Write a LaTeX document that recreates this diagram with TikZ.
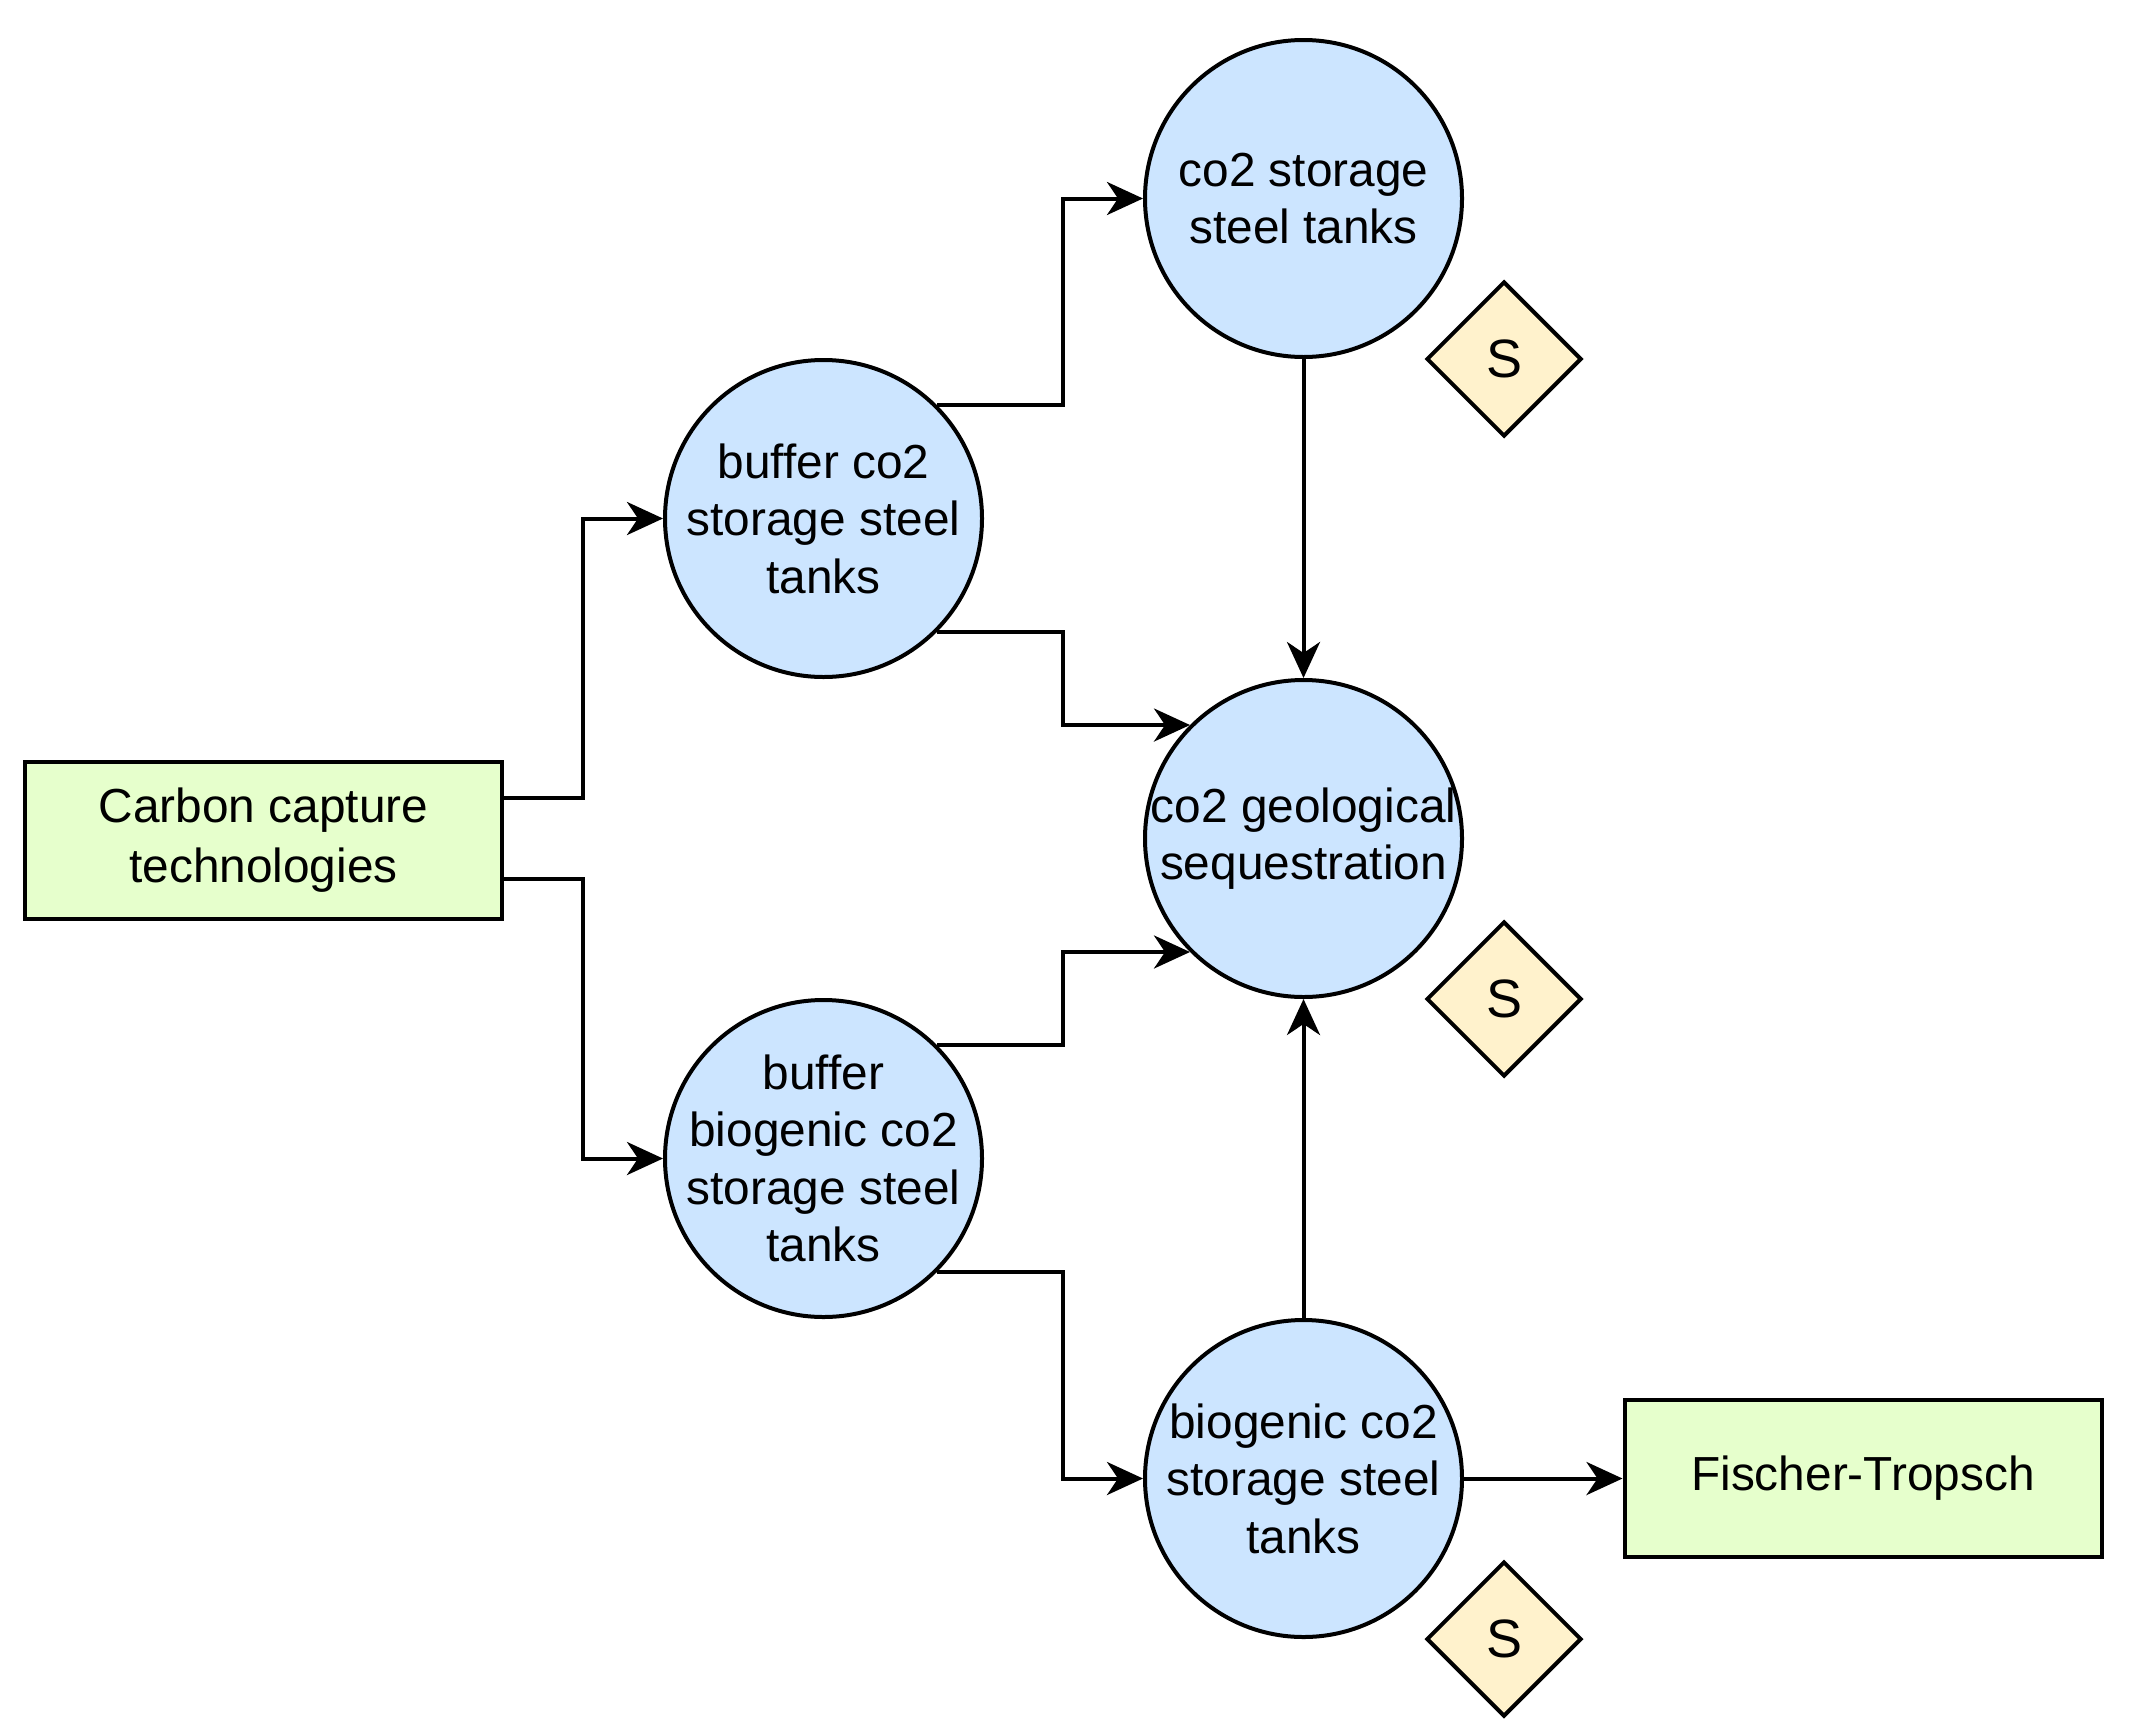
\documentclass[tikz,border=0pt]{standalone}
\usepackage{fontspec}
\setmainfont{Liberation Sans}
\usetikzlibrary{shapes.geometric,arrows.meta,calc}
\definecolor{tankblue}{HTML}{CCE5FF}
\definecolor{procgreen}{HTML}{E6FFCC}
\definecolor{storeyellow}{HTML}{FFF2CC}
\begin{document}
\begin{tikzpicture}[x=1pt,y=-1pt,
  every node/.style={font=\fontsize{47.8}{57.5}\selectfont, align=center, line width=4pt, draw=black, inner sep=0pt},
  tank/.style={circle, fill=tankblue, minimum size=317pt, inner sep=-45pt},
  proc/.style={rectangle, fill=procgreen, minimum width=477pt, minimum height=157pt, font=\fontsize{47.8}{60}\selectfont},
  store/.style={diamond, fill=storeyellow, minimum width=155pt, minimum height=155pt, aspect=1, font=\fontsize{54}{60}\selectfont},
  arr/.style={line width=4pt, -{Stealth[length=36pt, width=33pt, inset=11pt]}}]
\useasboundingbox (0,0) rectangle (2140,1721);

% process boxes
\node[proc] (cc) at (263.5,840) {Carbon capture\\technologies};
\node[proc] (ft) at (1863,1478.5) {\raisebox{-3pt}{Fischer-Tropsch}};

% storage tanks
\node[tank] (buf) at (823.5,518.5) {buffer co2\\storage steel\\tanks};
\node[tank] (bb)  at (823.5,1158.5) {buffer\\biogenic co2\\storage steel\\tanks};
\node[tank] (st)  at (1303.5,198.5) {co2 storage\\steel tanks};
\node[tank] (geo) at (1303.5,838.5) {co2 geological\\sequestration};
\node[tank] (bs)  at (1303.5,1478.5) {biogenic co2\\storage steel\\tanks};

% storage markers
\node[store] (s1) at (1504,359) {S};
\node[store] (s2) at (1504,999) {S};
\node[store] (s3) at (1504,1639) {S};

% connectors
\draw[arr] ($(cc.east)+(0,-42.5)$) -- ++(79,0) |- (buf.west);
\draw[arr] ($(cc.east)+(0,38.5)$) -- ++(79,0) |- (bb.west);
\draw[arr] (buf.45) -- ++(126,0) |- (st.west);
\draw[arr] (buf.-45) -- ++(126,0) |- (geo.135);
\draw[arr] (bb.45) -- ++(126,0) |- (geo.-135);
\draw[arr] (bb.-45) -- ++(126,0) |- (bs.west);
\draw[arr] (st.south) -- (geo.north);
\draw[arr] (bs.north) -- (geo.south);
\draw[arr] (bs.east) -- (ft.west);
\end{tikzpicture}
\end{document}
